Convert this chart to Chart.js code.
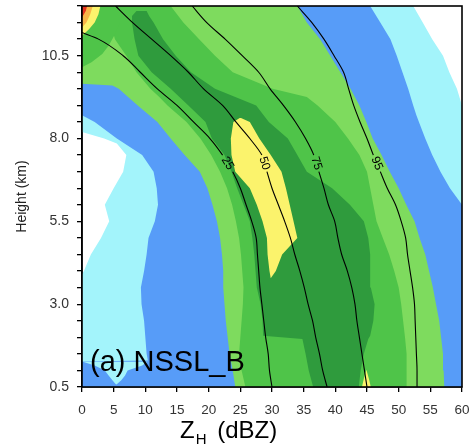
<!DOCTYPE html>
<html>
<head>
<meta charset="utf-8">
<script src="https://cdn.jsdelivr.net/npm/chart.js@4.4.1/dist/chart.umd.min.js"></script>
<style>
  html, body { margin: 0; padding: 0; background: #fff; }
  canvas { display: block; }
</style>
</head>
<body>
<canvas id="cfad" width="473" height="448"></canvas>
<script>
const FONT = '"Liberation Sans", Arial, Helvetica, sans-serif';

// height levels (km), also the tick positions of the y axis
const HEIGHTS = [0.5, 1, 1.5, 2, 2.5, 3, 3.5, 4, 4.5, 5, 5.5, 6, 6.5, 7, 7.5, 8, 8.5, 9, 9.5, 10, 10.5, 11, 11.5, 12];
const HEIGHT_LABELS = [0.5, 3.0, 5.5, 8.0, 10.5];

// filled frequency classes, each as left / right edge (dBZ) per height
// cyan: everything except the white hole on the left and the white top-right corner
const cyanH = [0.5, 1, 1.5, 2, 2.5, 3, 3.5, 3.9, 4, 4.5, 5, 5.5, 6, 6.5, 7, 7.5, 7.85, 8, 8.2, 8.5, 9, 9.5, 10, 10.5, 11, 11.5, 12];
const cyanL = [0, 0, 0, 0, 0, 0, 0, 0, 0.3, 1.4, 3.0, 4.3, 3.6, 5.0, 6.5, 7.0, 5.5, 3.5, 0, 0, 0, 0, 0, 0, 0, 0, 0];
const cyanR = [60, 60, 60, 60, 60, 60, 60, 60, 60, 60, 60, 60, 60, 60, 60, 60, 60, 60, 60, 60, 60, 59.2, 58.0, 57.0, 55.3, 53.8, 52.3];

// blue
const blueH = [0.5, 1, 1.27, 1.3, 1.5, 2, 2.5, 3, 3.5, 4, 4.5, 5, 5.5, 6, 6.5, 7, 7.5, 8, 8.5, 8.7, 9, 9.5, 10, 10.5, 11, 11.5, 12];
const blueL = [0, 0, 0, 10.4, 10.2, 10.0, 9.8, 9.4, 9.3, 9.8, 10.2, 10.5, 11.5, 12.0, 11.8, 11.3, 9.5, 5.5, 2.0, 0, 0, 0, 0, 0, 0, 0, 0];
const blueR = [60, 60, 60, 60, 60, 60, 60, 60, 60, 60, 60, 60, 60, 60, 58.1, 56.6, 55.3, 54.2, 53.2, 52.8, 52.3, 51.5, 50.6, 49.7, 48.7, 47.1, 45.5];

// small cyan notch cut into the blue near the ground
const notchH = [0.57, 0.7, 0.85, 1.0, 1.15, 1.27];
const notchL = [5.4, 4.8, 4.2, 3.6, 2.0, 0];
const notchR = [5.4, 6.2, 6.8, 7.2, 9.5, 10.4];

// light green
const lgH = [0.5, 1, 1.5, 2, 2.5, 3, 3.5, 4, 4.5, 5, 5.5, 6, 6.5, 7, 7.5, 8, 8.5, 9, 9.5, 9.6, 9.65, 10, 10.5, 11, 11.5, 12];
const lgL = [24.2, 23.8, 23.3, 23.0, 22.7, 22.5, 22.3, 22.3, 22.1, 21.8, 21.3, 20.6, 19.8, 18.6, 16.2, 14.0, 11.9, 8.8, 5.8, 4.8, 0, 0, 0, 0, 0, 0];
const lgR = [57.2, 57.1, 57.0, 56.7, 56.4, 55.9, 55.4, 54.8, 54.2, 53.3, 52.5, 51.2, 50.0, 48.6, 47.3, 45.9, 44.9, 43.8, 42.4, 42.1, 41.9, 40.8, 39.2, 37.6, 35.5, 34.0];

// medium green, main ridge
const mgH = [0.5, 1, 1.5, 2, 2.5, 3, 3.5, 4, 4.5, 5, 5.5, 6, 6.5, 7, 7.5, 8, 8.5, 9, 9.25, 9.5, 10, 10.5, 11, 11.5, 12];
const mgL = [25.8, 25.2, 24.8, 25.0, 25.2, 25.4, 25.5, 25.3, 25.1, 24.8, 24.3, 23.7, 22.9, 21.8, 20.4, 18.7, 16.5, 13.5, 12.2, 10.8, 8.6, 7.0, 5.2, 4.5, 4.0];
const mgR = [51.3, 51.3, 51.2, 51.0, 50.7, 50.4, 50.0, 49.3, 48.5, 47.5, 46.5, 46.0, 45.5, 45.0, 43.8, 42.0, 40.0, 37.2, 35.5, 30.1, 23.8, 21.0, 18.5, 16.0, 14.0];

// medium green, blob in the top-left corner
const blobH = [10.15, 10.3, 10.55, 10.8, 11.07, 11.5, 12];
const blobL = [0, 0, 0, 0, 0, 0, 0];
const blobR = [0, 1.5, 3.2, 4.2, 5.0, 6.0, 6.0];

// dark green
const dgH = [0.5, 1, 1.5, 1.95, 2.05, 2.5, 3, 3.5, 4, 4.5, 5, 5.5, 6, 6.5, 7, 7.5, 8, 8.5, 9, 9.5, 10, 10.5, 11, 11.5, 11.7, 11.85];
const dgL = [36.5, 35.8, 35.3, 34.8, 28.6, 28.5, 28.2, 27.6, 27.4, 27.2, 26.9, 26.5, 25.5, 24.5, 23.6, 22.5, 20.5, 19.5, 16.8, 14.0, 11.0, 8.9, 8.3, 7.9, 7.9, 8.6];
const dgR = [43.7, 44.0, 44.5, 45.2, 45.5, 46.0, 46.2, 45.6, 45.5, 45.5, 45.2, 44.5, 42.3, 39.5, 35.5, 34.0, 32.5, 29.5, 27.5, 21.0, 17.2, 14.8, 12.8, 11.3, 10.6, 10.2];

// yellow core in mid levels
const ymH = [3.78, 4, 4.5, 5, 5.5, 6, 6.5, 7, 7.5, 8, 8.5, 8.62];
const ymL = [29.8, 29.6, 29.3, 29.2, 28.5, 27.6, 26.5, 24.2, 23.6, 23.5, 23.9, 24.9];
const ymR = [29.8, 30.6, 31.6, 34.0, 33.4, 32.8, 32.2, 31.5, 29.8, 28.0, 26.5, 25.1];

// yellow spot at the ground
const ybH = [0.5, 0.75, 1.02];
const ybL = [44.2, 44.5, 44.9];
const ybR = [45.6, 45.3, 44.9];

// yellow / orange / red in the top-left corner
const ytH = [11.1, 11.3, 11.5, 11.75, 12];
const ytL = [0, 0, 0, 0, 0];
const ytR = [0, 1.1, 2.0, 2.6, 2.9];
const orH = [11.35, 11.5, 11.75, 12];
const orL = [0, 0, 0, 0];
const orR = [0, 0.7, 1.3, 1.7];
const rdH = [11.65, 11.85, 12];
const rdL = [0, 0, 0];
const rdR = [0, 0.6, 0.8];

// percentile curves (dBZ)
const pct25H = [0.5, 1, 1.5, 2, 2.5, 3, 3.5, 4, 4.5, 5, 5.5, 6, 6.5, 7, 7.5, 8, 8.5, 9, 9.5, 10, 10.5, 11, 11.2];
const pct25 = [30.0, 29.6, 29.4, 29.0, 28.7, 28.4, 28.1, 27.9, 27.7, 27.5, 26.8, 25.9, 25.0, 23.8, 22.2, 20.2, 17.6, 15.0, 11.9, 9.2, 6.5, 2.6, 0];
const pct50 = [38.7, 38.0, 37.5, 36.9, 36.4, 35.7, 35.1, 34.4, 33.6, 32.9, 32.0, 31.0, 30.0, 29.2, 28.4, 26.5, 24.3, 22.2, 19.2, 16.8, 14.0, 11.0, 8.0, 5.3];
const pct75 = [45.0, 44.6, 44.2, 43.8, 43.4, 43.1, 42.6, 41.9, 41.0, 40.4, 39.9, 38.9, 38.2, 37.4, 36.6, 35.3, 33.7, 31.8, 29.7, 27.9, 25.3, 22.6, 19.7, 17.4];
const pct95 = [52.9, 52.9, 52.8, 52.7, 52.6, 52.5, 52.2, 51.8, 51.4, 51.1, 50.4, 49.5, 48.2, 47.1, 46.0, 45.0, 43.9, 42.9, 42.1, 41.3, 39.8, 38.2, 36.3, 34.0];
const PCT_GAP = [7, 7.5];   // curve segment left open for the inline label

const bands = [
  ['#a3f4fb', cyanH, cyanL, cyanR],
  ['#579cf8', blueH, blueL, blueR],
  ['#a3f4fb', notchH, notchL, notchR],
  ['#7edb5e', lgH, lgL, lgR],
  ['#4fc449', mgH, mgL, mgR],
  ['#4fc449', blobH, blobL, blobR],
  ['#2f9b3d', dgH, dgL, dgR],
  ['#fbf36c', ymH, ymL, ymR],
  ['#fbf36c', ybH, ybL, ybR],
  ['#fbf36c', ytH, ytL, ytR],
  ['#f8b548', orH, orL, orR],
  ['#e5321f', rdH, rdL, rdR]
];

const curves = [
  { label: '25', h: pct25H, v: pct25 },
  { label: '50', h: HEIGHTS, v: pct50 },
  { label: '75', h: HEIGHTS, v: pct75 },
  { label: '95', h: HEIGHTS, v: pct95 }
];

const datasets = [];
bands.forEach(([color, h, left, right], i) => {
  const order = 100 - i;   // outer classes are painted first
  datasets.push({
    data: h.map((v, k) => ({ x: left[k], y: v })),
    borderWidth: 0, borderColor: 'transparent', pointRadius: 0, fill: false, order
  });
  datasets.push({
    data: h.map((v, k) => ({ x: right[k], y: v })),
    borderWidth: 0, borderColor: 'transparent', pointRadius: 0,
    backgroundColor: color, fill: '-1', order
  });
});
curves.forEach(c => {
  datasets.push({
    data: c.h.map((v, k) => ({ x: c.v[k], y: v })),
    borderColor: '#000', borderWidth: 1.1, pointRadius: 0, fill: false, order: 0,
    cubicInterpolationMode: 'monotone',
    segment: {
      borderColor: s => (s.p0.parsed.y === PCT_GAP[0] && s.p1.parsed.y === PCT_GAP[1]) ? 'rgba(0,0,0,0)' : undefined
    }
  });
});

const overlay = {
  id: 'overlay',
  afterDatasetsDraw(chart) {
    const { ctx, scales: { x, y } } = chart;
    ctx.save();
    // inline percentile labels, rotated along each curve
    ctx.font = '12px ' + FONT;
    ctx.fillStyle = '#000';
    ctx.textAlign = 'center';
    ctx.textBaseline = 'middle';
    curves.forEach(c => {
      const lo = c.h.indexOf(PCT_GAP[0]);
      const hi = c.h.indexOf(PCT_GAP[1]);
      const x0 = x.getPixelForValue(c.v[hi]), y0 = y.getPixelForValue(c.h[hi]);
      const x1 = x.getPixelForValue(c.v[lo]), y1 = y.getPixelForValue(c.h[lo]);
      ctx.save();
      ctx.translate((x0 + x1) / 2, (y0 + y1) / 2);
      ctx.rotate(Math.atan2(y1 - y0, x1 - x0));
      ctx.fillText(c.label, 0, 0);
      ctx.restore();
    });
    // panel tag
    ctx.textAlign = 'left';
    ctx.textBaseline = 'alphabetic';
    ctx.font = '29px ' + FONT;
    ctx.fillText('(a) NSSL_B', 90, 371);
    ctx.restore();
  },
  afterDraw(chart) {
    const { ctx, chartArea: a } = chart;
    ctx.save();
    ctx.strokeStyle = '#000';
    ctx.lineWidth = 1.6;
    ctx.strokeRect(a.left, a.top, a.right - a.left, a.bottom - a.top);
    // x axis title with subscript
    ctx.fillStyle = '#000';
    ctx.textBaseline = 'alphabetic';
    ctx.textAlign = 'left';
    let tx = 180;
    ctx.font = '24px ' + FONT;
    ctx.fillText('Z', tx, 438);
    tx += ctx.measureText('Z').width + 1;
    ctx.font = '15px ' + FONT;
    ctx.fillText('H', tx, 444);
    tx += ctx.measureText('H').width + 4;
    ctx.font = '24px ' + FONT;
    ctx.fillText(' (dBZ)', tx, 438);
    ctx.restore();
  }
};

new Chart(document.getElementById('cfad'), {
  type: 'line',
  data: { datasets },
  options: {
    indexAxis: 'y',
    responsive: false,
    animation: false,
    events: [],
    layout: { padding: { left: 0, right: 11, top: 6, bottom: 0 } },
    plugins: { legend: { display: false }, tooltip: { enabled: false } },
    scales: {
      x: {
        type: 'linear', position: 'bottom', min: 0, max: 60,
        ticks: { stepSize: 5, autoSkip: false, maxRotation: 0, color: '#333', padding: 10, font: { family: FONT, size: 13.5 } },
        grid: { drawOnChartArea: false, drawTicks: true, tickLength: 5, color: '#000', lineWidth: 1.3 },
        border: { display: true, color: '#000', width: 1.5 },
        afterFit: s => { s.height = 61; s.paddingLeft = 0; s.paddingRight = 0; }
      },
      y: {
        type: 'linear', position: 'left', min: 0.5, max: 12,
        afterBuildTicks: s => { s.ticks = HEIGHTS.map(v => ({ value: v })); },
        ticks: {
          autoSkip: false, color: '#333', padding: 8, font: { family: FONT, size: 14 },
          callback: v => HEIGHT_LABELS.includes(v) ? v.toFixed(1) : ''
        },
        grid: { drawOnChartArea: false, drawTicks: true, tickLength: 5, color: '#000', lineWidth: 1.3 },
        border: { display: true, color: '#000', width: 1.5 },
        title: { display: true, text: 'Height (km)', color: '#222', font: { family: FONT, size: 14 }, padding: { top: 14, bottom: 0 } },
        afterFit: s => { s.width = 82; s.paddingTop = 0; s.paddingBottom = 0; }
      }
    }
  },
  plugins: [overlay]
});
</script>
</body>
</html>
